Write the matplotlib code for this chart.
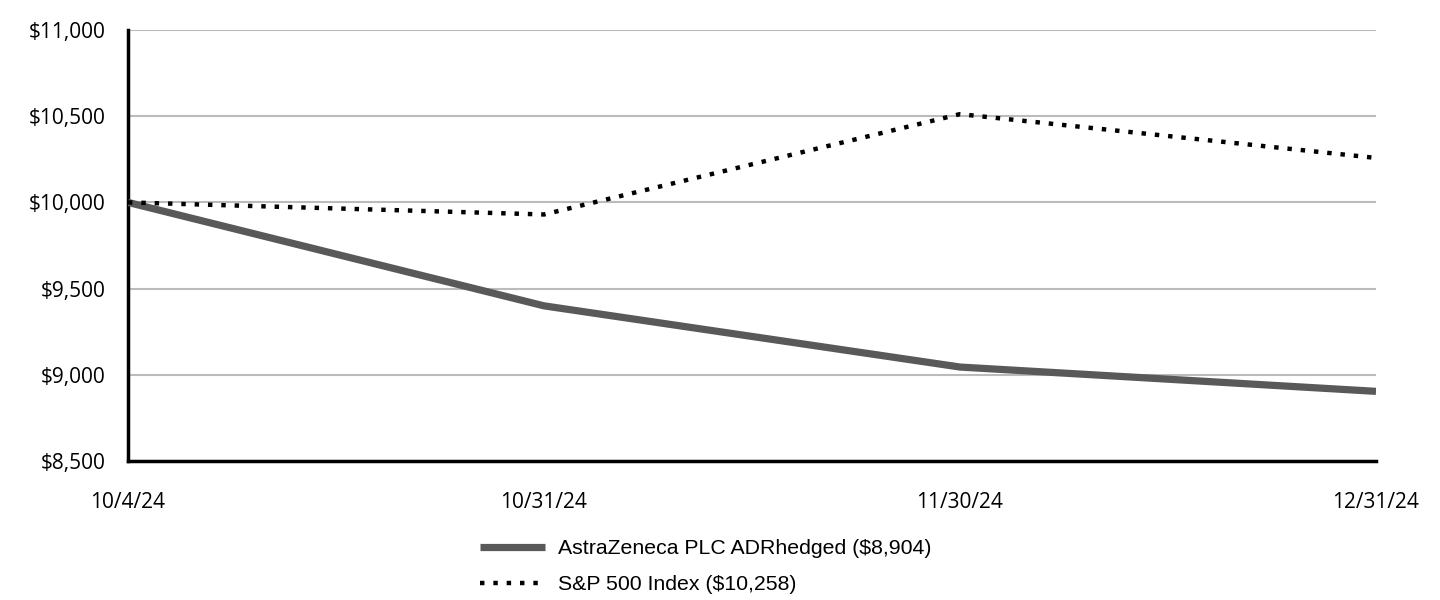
#!/usr/bin/env python3
import matplotlib.pyplot as plt
import numpy as np

dates = ["10/4/24", "10/31/24", "11/30/24", "12/31/24"]
azn = [10000, 9400, 9045, 8904]
spx = [10000, 9930, 10512, 10258]
azn_label = "AstraZeneca PLC ADRhedged ($8,904)"
spx_label = "S&P 500 Index ($10,258)"
yticks = [8500, 9000, 9500, 10000, 10500, 11000]


def main():
    fig = plt.figure(figsize=(14.4, 6), dpi=100)
    ax = fig.add_axes([128/1440, 1-461/600, (1376-128)/1440, (461-30)/600])
    x = np.arange(len(dates))

    ax.plot(x, azn, color="#595959", lw=5.2, solid_capstyle="butt",
            label=azn_label, zorder=3)
    ax.plot(x, spx, color="black", lw=3.2, linestyle=(0, (1, 2)),
            dash_capstyle="butt", label=spx_label, zorder=3)

    ax.set_xlim(0, len(dates)-1)
    ax.set_ylim(8500, 11000)
    ax.set_yticks(yticks)
    ax.set_yticklabels(["${:,}".format(v) for v in yticks],
                       fontsize=15, family="Open Sans")
    ax.set_xticks(x)
    ax.set_xticklabels(dates, fontsize=15, family="Open Sans")
    ax.tick_params(axis="both", length=0)
    ax.tick_params(axis="x", pad=22)
    ax.tick_params(axis="y", pad=16)
    ax.yaxis.grid(True, color="#bbbbbb", lw=1.5)
    ax.set_axisbelow(True)
    for s in ["top", "right"]:
        ax.spines[s].set_visible(False)
    for s in ["left", "bottom"]:
        ax.spines[s].set_linewidth(2.5)
        ax.spines[s].set_color("black")

    fig.legend(loc="upper left", bbox_to_anchor=(480/1440, 1-539/600),
               frameon=False, prop={"family": "Liberation Sans", "size": 15.3},
               handlelength=3.05, labelspacing=0.8, handletextpad=0.6,
               borderpad=0, borderaxespad=0)

    fig.savefig("out.png", dpi=100)


if __name__ == '__main__':
    main()
